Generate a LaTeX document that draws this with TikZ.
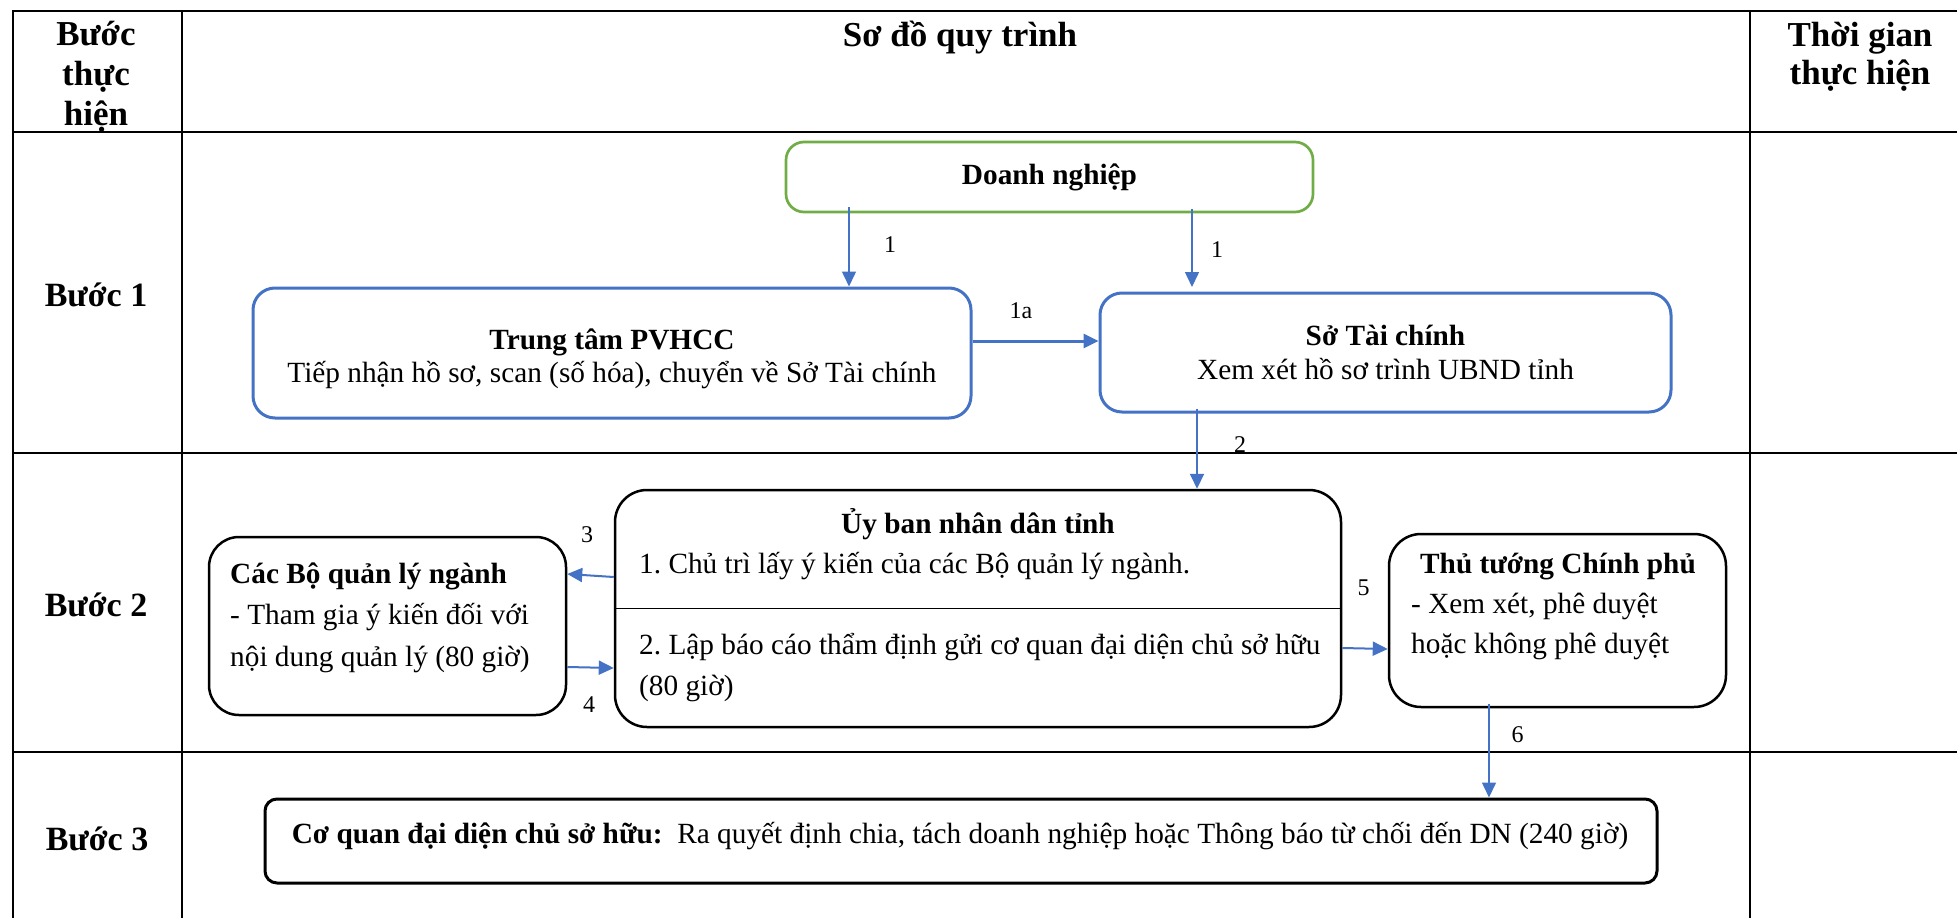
\documentclass[tikz,border=0pt]{standalone}
\usepackage{fontspec}
\setmainfont{Liberation Serif}
\usepackage{tikz}
\usetikzlibrary{arrows.meta}
\frenchspacing

\definecolor{flowblue}{HTML}{4472C4}
\definecolor{dngreen}{HTML}{70AD47}

\tikzset{
  gridline/.style={line width=2pt, line cap=rect},
  headcell/.style={font=\bfseries\fontsize{35}{40}\selectfont, align=center, inner sep=0pt},
  greenbox/.style={draw=dngreen, line width=2.7pt, rounded corners=18pt, font=\bfseries\fontsize{29.3}{34}\selectfont},
  bluebox/.style={draw=flowblue, line width=3pt, rounded corners=22pt, align=center, font=\fontsize{29.3}{33.5}\selectfont},
  blackbox/.style={draw=black, line width=2.5pt, rounded corners=32pt},
  boxtext/.style={font=\fontsize{29.3}{41}\selectfont, align=left, inner sep=0pt},
  flow/.style={draw=flowblue, line width=2pt, -{Triangle[length=15pt,width=14pt]}},
  flownum/.style={font=\fontsize{24}{28}\selectfont, inner sep=0pt}
}

\begin{document}
\begin{tikzpicture}[x=1pt,y=-1pt]
      % Define the table lines
      \def\Left{13}
      \def\Right{1957}
      \def\ColA{181.5}
      \def\ColB{1750}
      \def\Top{11}
      \def\Bottom{918}

      \useasboundingbox (0,0) rectangle (\Right,\Bottom);

      % Draw the table
      \foreach \ry in {\Top,131.5,453,752}
        \draw[gridline] (\Left,\ry) -- (\Right,\ry);
      \foreach \cx in {\Left,\ColA,\ColB}
        \draw[gridline] (\cx,\Top) -- (\cx,\Bottom);

      % Header row (base = last line)
      \node[headcell, anchor=base] (hstep) at (96,125) {Bước\\thực\\hiện};
      \node[headcell, anchor=base] (hflow) at (960,46) {Sơ đồ quy trình};
      \node[headcell, font=\bfseries\fontsize{35}{38}\selectfont, anchor=base] (htime) at (1860,84) {Thời gian\\thực hiện};

      % Step names
      \node[headcell, font=\bfseries\fontsize{34}{39}\selectfont, anchor=base] (step1) at (96,306) {Bước 1};
      \node[headcell, font=\bfseries\fontsize{34}{39}\selectfont, anchor=base] (step2) at (96,616) {Bước 2};
      \node[headcell, font=\bfseries\fontsize{34}{39}\selectfont, anchor=base] (step3) at (97,850) {Bước 3};

      % Draw the boxes of step 1
      \node[greenbox, minimum width=527pt, minimum height=70pt] (dn) at (1049.5,177) {Doanh nghiệp};
      \node[bluebox, minimum width=718pt, minimum height=130pt] (ttpv) at (612,353)
        {\rule{0pt}{32pt}\textbf{Trung tâm PVHCC}\\Tiếp nhận hồ sơ, scan (số hóa), chuyển về Sở Tài chính};
      \node[bluebox, minimum width=571pt, minimum height=119pt] (stc) at (1385.5,352.5)
        {\textbf{Sở Tài chính}\\Xem xét hồ sơ trình UBND tỉnh};

      % Draw the boxes of step 2
      \node[blackbox, minimum width=726pt, minimum height=237pt] (ubnd) at (978,608.5) {};
      \draw[line width=1.5pt] (ubnd.west) -- (ubnd.east);
      \node[boxtext, anchor=base, font=\bfseries\fontsize{29.3}{41}\selectfont] (ubndtitle) at (978,533) {Ủy ban nhân dân tỉnh};
      \node[boxtext, anchor=base west] (ubndone) at (639,573) {1. Chủ trì lấy ý kiến của các Bộ quản lý ngành.};
      \node[boxtext, anchor=base west] (ubndtwo) at (639,695) {2. Lập báo cáo thẩm định gửi cơ quan đại diện chủ sở hữu\\(80 giờ)};

      \node[blackbox, rounded corners=30pt, minimum width=357pt, minimum height=178pt] (cacbo) at (387.5,626) {};
      \node[boxtext, anchor=base west, font=\fontsize{29.3}{41.5}\selectfont] (cacbotext) at (230,666)
        {\textbf{Các Bộ quản lý ngành}\\- Tham gia ý kiến đối với\\nội dung quản lý (80 giờ)};

      \node[blackbox, minimum width=337pt, minimum height=173pt] (thutuong) at (1557.5,620.5) {};
      \node[boxtext, anchor=base, font=\bfseries\fontsize{29.3}{41}\selectfont] (tttitle) at (1558,573) {Thủ tướng Chính phủ};
      \node[boxtext, anchor=base west, font=\fontsize{29.3}{40}\selectfont] (tttext) at (1411,653)
        {- Xem xét, phê duyệt\\hoặc không phê duyệt};

      % Draw the box of step 3
      \node[blackbox, line width=3pt, rounded corners=12pt, minimum width=1392pt, minimum height=84pt] (coquan) at (961,841) {};
      \node[boxtext, anchor=base] (coquantext) at (960,843)
        {\textbf{Cơ quan đại diện chủ sở hữu:}\ \ Ra quyết định chia, tách doanh nghiệp hoặc Thông báo từ chối đến DN (240 giờ)};

      % Draw the arrows
      \coordinate (c1l) at (849,0);
      \coordinate (c1r) at (1192,0);
      \coordinate (c1a) at (0,341);
      \coordinate (c2) at (1197,0);
      \coordinate (c6) at (1489,0);
      \draw[flow, line width=1.5pt] ([yshift=6pt]c1l |- dn.south) -- (c1l |- ttpv.north);
      \draw[flow, line width=1.5pt, shorten >=4.5pt] ([yshift=4pt]c1r |- dn.south) -- (c1r |- stc.north);
      \draw[flow, line width=3pt] (c1a -| ttpv.east) -- (c1a -| stc.west);
      \draw[flow] ([yshift=5pt]c2 |- stc.south) -- (c2 |- ubnd.north);
      \draw[flow] (ubnd.west |- 0,577) -- (cacbo.east |- 0,574);
      \draw[flow] (cacbo.east |- 0,667) -- (ubnd.west |- 0,668);
      \draw[flow] (ubnd.east |- 0,648) -- (thutuong.west |- 0,649);
      \draw[flow, line width=1.5pt] ([yshift=4pt]c6 |- thutuong.south) -- (c6 |- coquan.north);

      % Label the arrows
      \node[flownum] (n1l) at (890,245) {1};
      \node[flownum] (n1r) at (1217,250) {1};
      \node[flownum] (n1a) at (1021,311) {1a};
      \node[flownum] (n2) at (1240,445) {2};
      \node[flownum] (n3) at (587,535) {3};
      \node[flownum] (n4) at (589,704.5) {4};
      \node[flownum] (n5) at (1363.5,588) {5};
      \node[flownum] (n6) at (1517.5,735) {6};
    \end{tikzpicture}
\end{document}
